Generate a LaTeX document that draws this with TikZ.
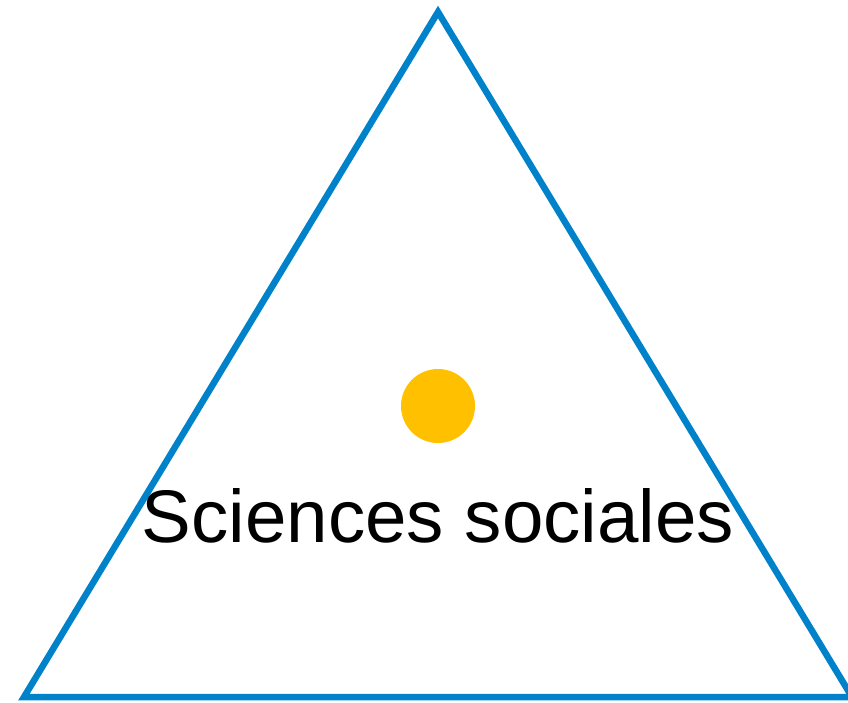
\documentclass[tikz,border=0pt]{standalone}
\usepackage{fontspec}
\setmainfont{Liberation Sans}
\usetikzlibrary{calc}
\definecolor{triblue}{RGB}{0,130,202}
\definecolor{dotgold}{RGB}{255,192,0}

\begin{document}
\begin{tikzpicture}[x=1pt,y=-1pt]
            \useasboundingbox(0,0)rectangle(848,702);
            \clip(0,0)rectangle(848,702);
            \coordinate(T)at(438,12);
            \coordinate(L)at(24,697);
            \coordinate(R)at(852,697);
            %triangle
            \path[draw=triblue,line width=6.5pt,line join=miter](T)--(L)--(R)--cycle;
            %point
            \path[fill=dotgold](438,406)circle(37);
            \node[inner sep=0pt,font=\fontsize{74.5}{80}\selectfont](label)at(438,516){Sciences sociales};
        \end{tikzpicture}
\end{document}
